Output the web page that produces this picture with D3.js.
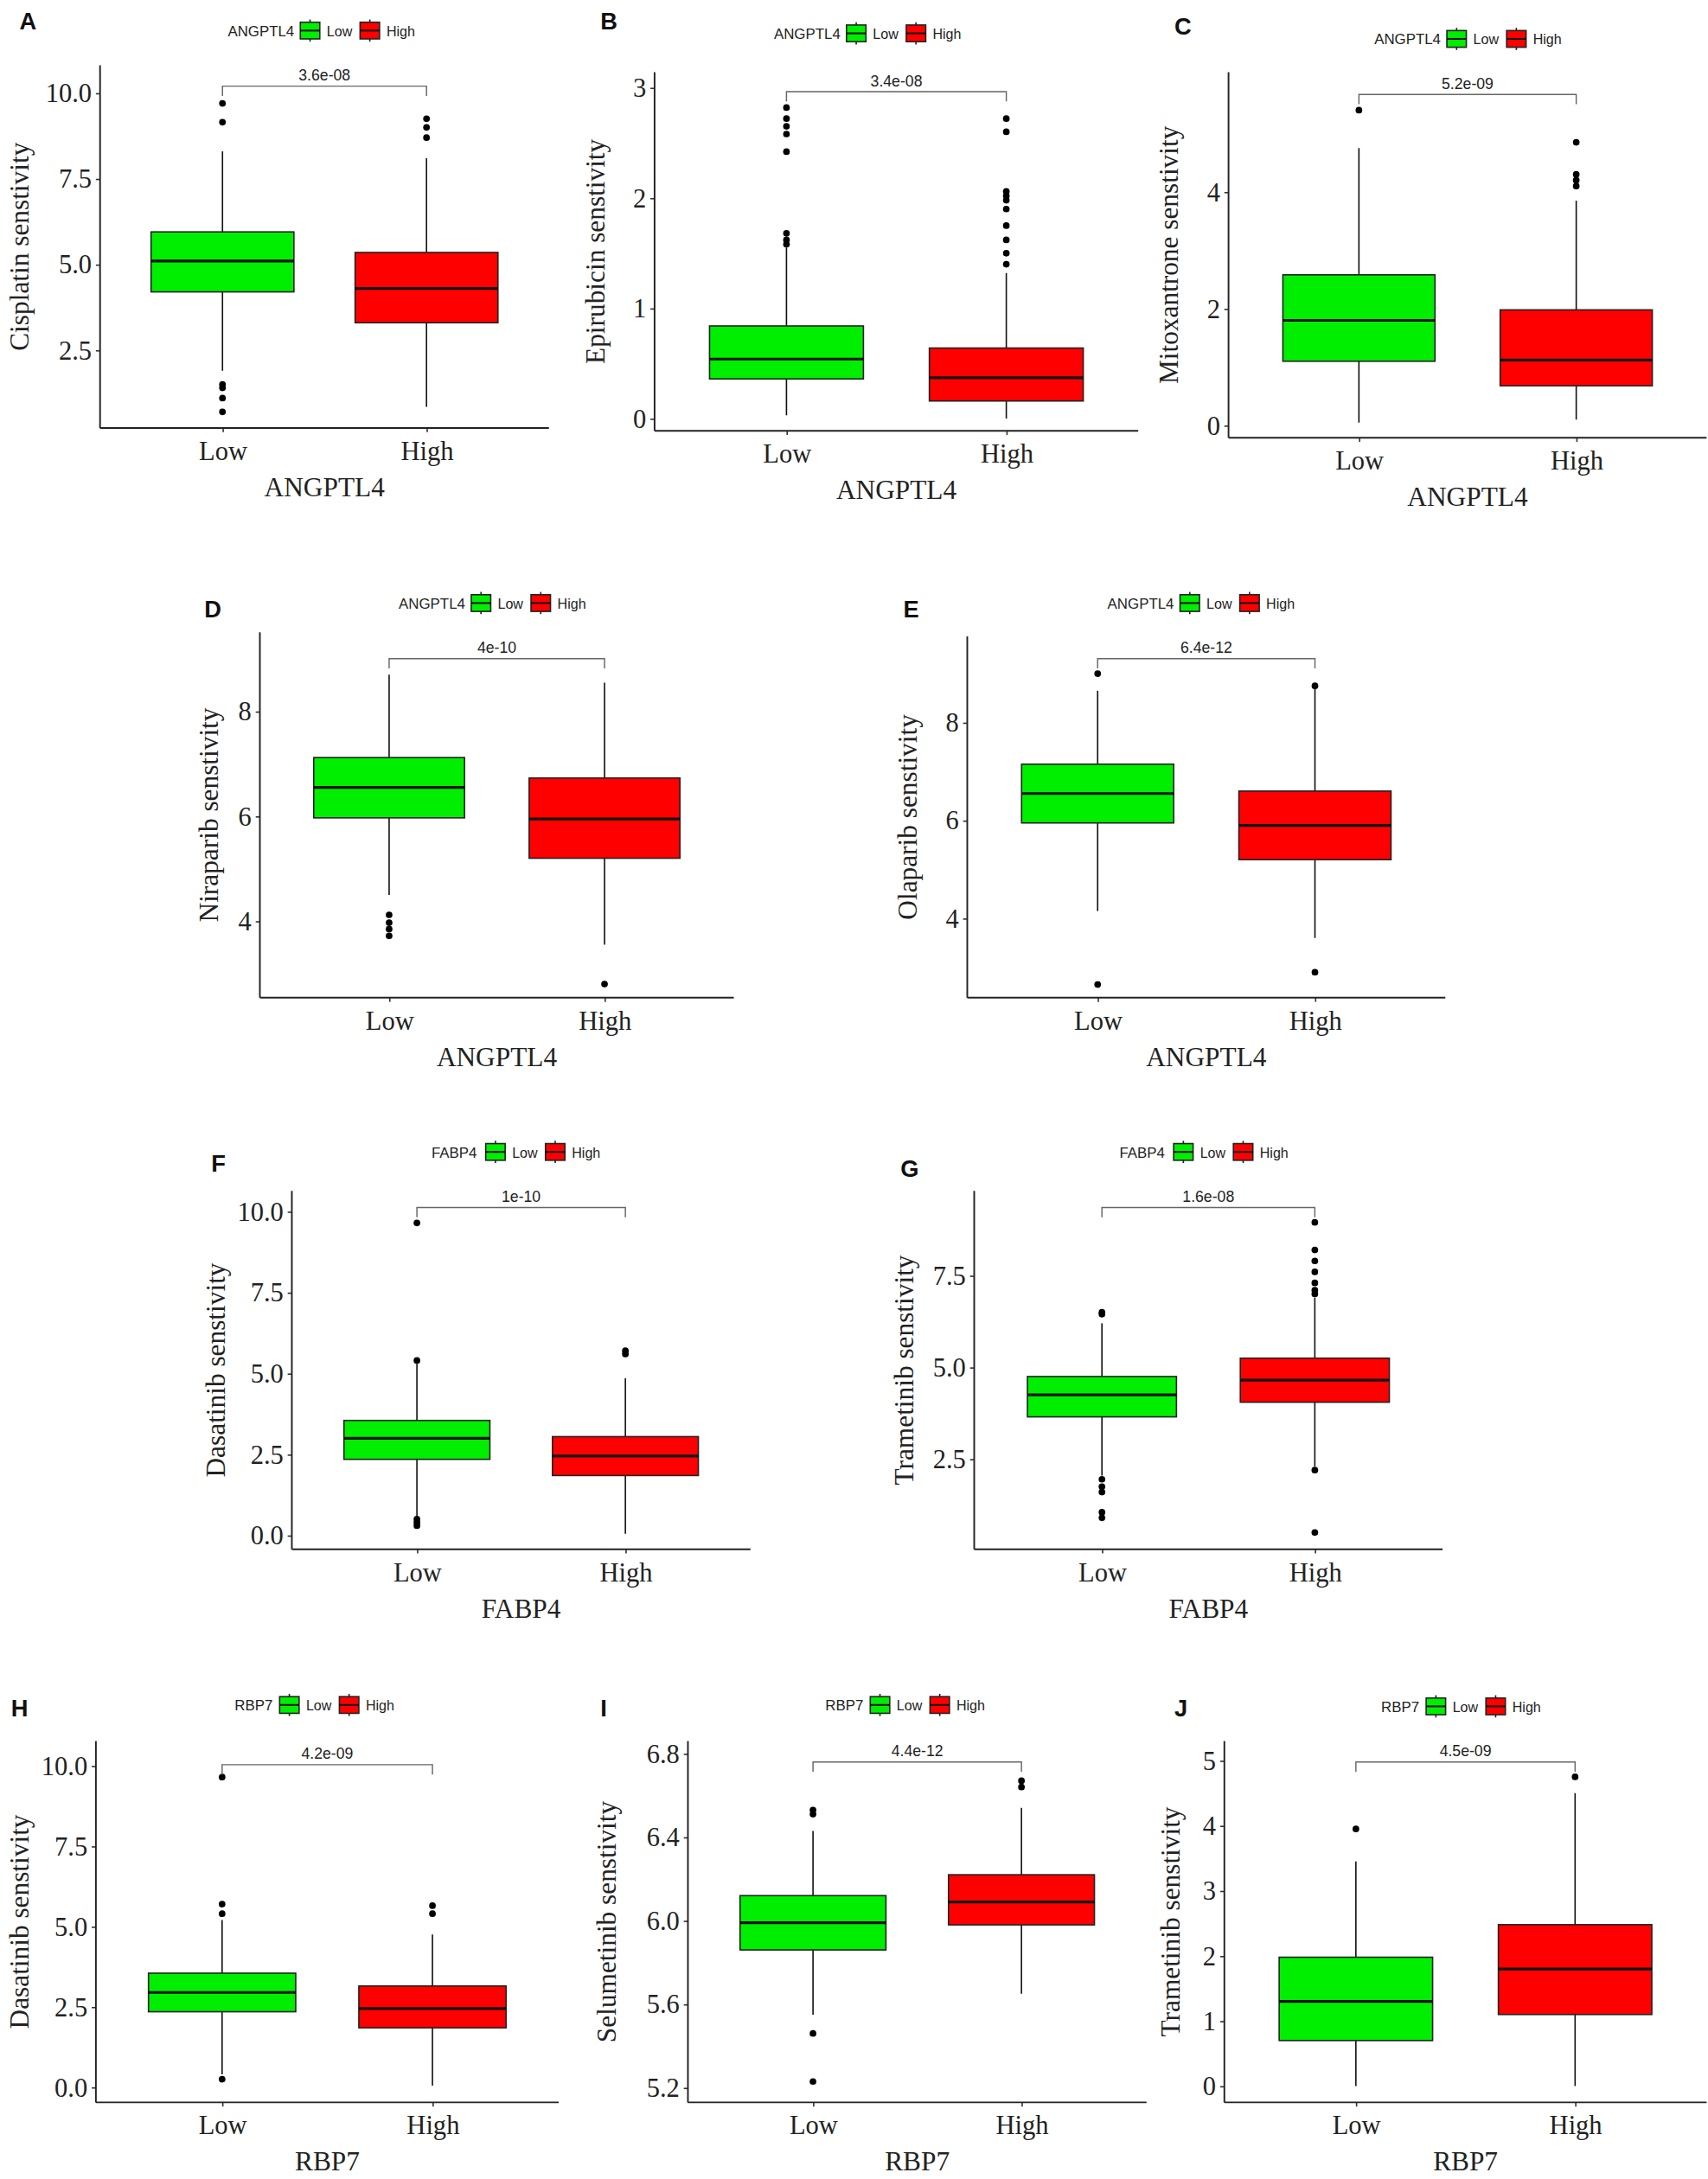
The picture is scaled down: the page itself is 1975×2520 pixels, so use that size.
<!DOCTYPE html>
<html><head><meta charset="utf-8">
<script src="https://cdn.jsdelivr.net/npm/d3@7"></script>
<style>body{margin:0;background:#fff}</style></head>
<body><svg id="c" width="1975" height="2520"></svg>
<script>
const groups = ["Low","High"];
const colors = {Low:"#00ee00", High:"#ff0000"};
// stats: [lowWhisker, q1, median, q3, highWhisker]
const panels = [
 {id:"A", gene:"ANGPTL4", ylab:"Cisplatin senstivity", p:"3.6e-08", domain:[0.23,10.81], ticks:[2.5,5,7.5,10], fmt:".1f",
  low:[1.9,4.2,5.1,5.95,8.3], lowOut:[0.7,1.1,1.4,1.5,9.15,9.7], high:[0.85,3.3,4.3,5.35,8.1], highOut:[8.7,9.0,9.25]},
 {id:"B", gene:"ANGPTL4", ylab:"Epirubicin senstivity", p:"3.4e-08", domain:[-0.11,3.14], ticks:[0,1,2,3], fmt:"d",
  low:[0.03,0.36,0.54,0.84,1.55], lowOut:[1.58,1.62,1.68,2.42,2.58,2.65,2.72,2.82], high:[0.0,0.16,0.37,0.64,1.32], highOut:[1.4,1.5,1.62,1.75,1.9,1.98,2.02,2.06,2.6,2.72]},
 {id:"C", gene:"ANGPTL4", ylab:"Mitoxantrone senstivity", p:"5.2e-09", domain:[-0.21,6.05], ticks:[0,2,4], fmt:"d",
  low:[0.05,1.1,1.8,2.58,4.75], lowOut:[5.4], high:[0.1,0.68,1.12,1.98,3.85], highOut:[4.1,4.2,4.3,4.85]},
 {id:"D", gene:"ANGPTL4", ylab:"Niraparib senstivity", p:"4e-10", domain:[2.54,9.51], ticks:[4,6,8], fmt:"d",
  low:[4.5,5.97,6.55,7.12,8.7], lowOut:[3.72,3.85,3.97,4.12], high:[3.55,5.2,5.95,6.73,8.55], highOut:[2.8]},
 {id:"E", gene:"ANGPTL4", ylab:"Olaparib senstivity", p:"6.4e-12", domain:[2.38,9.76], ticks:[4,6,8], fmt:"d",
  low:[4.15,5.95,6.55,7.15,8.65], lowOut:[2.65,9.0], high:[3.6,5.2,5.9,6.6,8.7], highOut:[2.9,8.75]},
 {id:"F", gene:"FABP4", ylab:"Dasatinib senstivity", p:"1e-10", domain:[-0.43,10.64], ticks:[0,2.5,5,7.5,10], fmt:".1f",
  low:[0.6,2.35,3.0,3.55,5.3], lowOut:[0.3,0.4,0.5,5.4,9.65], high:[0.05,1.85,2.45,3.05,4.85], highOut:[5.6,5.7]},
 {id:"G", gene:"FABP4", ylab:"Trametinib senstivity", p:"1.6e-08", domain:[0.04,9.81], ticks:[2.5,5,7.5], fmt:".1f",
  low:[2.05,3.65,4.25,4.75,6.2], lowOut:[0.9,1.05,1.6,1.75,1.95,6.45,6.5], high:[2.3,4.05,4.65,5.25,6.9], highOut:[0.5,2.2,7.0,7.1,7.3,7.6,7.9,8.2,8.95]},
 {id:"H", gene:"RBP7", ylab:"Dasatinib senstivity", p:"4.2e-09", domain:[-0.47,10.77], ticks:[0,2.5,5,7.5,10], fmt:".1f",
  low:[0.4,2.35,2.95,3.55,5.2], lowOut:[0.25,5.4,5.7,9.65], high:[0.05,1.85,2.45,3.15,4.75], highOut:[5.4,5.65]},
 {id:"I", gene:"RBP7", ylab:"Selumetinib senstivity", p:"4.4e-12", domain:[5.13,6.86], ticks:[5.2,5.6,6.0,6.4,6.8], fmt:".1f",
  low:[5.55,5.86,5.99,6.12,6.43], lowOut:[5.23,5.46,6.51,6.53], high:[5.65,5.98,6.09,6.22,6.54], highOut:[6.64,6.67]},
 {id:"J", gene:"RBP7", ylab:"Trametinib senstivity", p:"4.5e-09", domain:[-0.25,5.3], ticks:[0,1,2,3,4,5], fmt:"d",
  low:[0.0,0.7,1.3,1.98,3.45], lowOut:[3.95], high:[0.0,1.1,1.8,2.48,4.5], highOut:[4.75]}
];
const layout = {
 A:{L:72,R:395,T:47,B:308,leg:[235,22],let:[14,14],yt:14,br:62},
 B:{L:471,R:819,T:52,B:310,leg:[628,24],let:[432,14],yt:428,br:66},
 C:{L:884,R:1228,T:52,B:315,leg:[1060,28],let:[845,18],yt:841,br:68},
 D:{L:187,R:528,T:455,B:718,leg:[358,434],let:[147,437],yt:150,br:474},
 E:{L:696,R:1040,T:458,B:718,leg:[868,434],let:[650,437],yt:653,br:474},
 F:{L:210,R:540,T:857,B:1115,leg:[375,829],let:[152,836],yt:155,br:869},
 G:{L:701,R:1038,T:857,B:1115,leg:[870,829],let:[648,840],yt:650,br:869},
 H:{L:69,R:402,T:1253,B:1513,leg:[230,1227],let:[8,1228],yt:14,br:1270},
 I:{L:495,R:825,T:1253,B:1513,leg:[655,1227],let:[432,1228],yt:436,br:1268},
 J:{L:881,R:1228,T:1253,B:1513,leg:[1055,1228],let:[845,1228],yt:842,br:1268}
};
const S = 1975/1229;
const root = d3.select("#c").append("g").attr("transform",`scale(${S})`);
const serif = "Liberation Serif, Times New Roman, serif", sans = "Liberation Sans, Arial, sans-serif";
panels.forEach(p=>{
  const l = layout[p.id];
  const g = root.append("g");
  const xs = d3.scalePoint().domain(groups).range([l.L,l.R]).padding(0.6);
  const y = d3.scaleLinear().domain(p.domain).range([l.B,l.T]);
  const bw = (xs("High")-xs("Low"))*0.7;
  const ya = g.append("g").attr("transform",`translate(${l.L},0)`).call(d3.axisLeft(y).tickValues(p.ticks).tickFormat(d3.format(p.fmt)).tickSizeOuter(0).tickSize(3));
  const xa = g.append("g").attr("transform",`translate(0,${l.B})`).call(d3.axisBottom(xs).tickSizeOuter(0).tickSize(3));
  [ya,xa].forEach(a=>{
    a.selectAll(".tick line").attr("stroke","#333");
    a.selectAll("text").attr("font-family",serif).attr("font-size",19).attr("fill","#222");});
  ya.select(".domain").remove(); xa.select(".domain").remove();
  g.append("line").attr("x1",l.L).attr("x2",l.L).attr("y1",l.T).attr("y2",l.B).attr("stroke","#222").attr("stroke-width",1.2);
  g.append("line").attr("x1",l.L).attr("x2",l.R).attr("y1",l.B).attr("y2",l.B).attr("stroke","#222").attr("stroke-width",1.2);
  xa.selectAll("text").attr("dy","0.9em");
  groups.forEach(k=>{
    const st = k==="Low"?p.low:p.high, out = k==="Low"?p.lowOut:p.highOut, cx = xs(k);
    g.append("line").attr("x1",cx).attr("x2",cx).attr("y1",y(st[0])).attr("y2",y(st[4])).attr("stroke","#111").attr("stroke-width",1);
    g.append("rect").attr("x",cx-bw/2).attr("width",bw).attr("y",y(st[3])).attr("height",y(st[1])-y(st[3]))
      .attr("fill",colors[k]).attr("stroke","#222").attr("stroke-width",1);
    g.append("line").attr("x1",cx-bw/2).attr("x2",cx+bw/2).attr("y1",y(st[2])).attr("y2",y(st[2])).attr("stroke","#111").attr("stroke-width",2);
    g.selectAll(null).data(out).enter().append("circle").attr("cx",cx).attr("cy",d=>y(d)).attr("r",2.4).attr("fill","#000");
  });
  const x1 = xs("Low"), x2 = xs("High");
  g.append("path").attr("d",`M${x1},${l.br+7}V${l.br}H${x2}V${l.br+7}`).attr("fill","none").attr("stroke","#666").attr("stroke-width",0.9);
  g.append("text").attr("x",(x1+x2)/2).attr("y",l.br-4).attr("text-anchor","middle").attr("font-family",sans).attr("font-size",11).attr("fill","#222").text(p.p);
  g.append("text").attr("x",(l.L+l.R)/2).attr("y",l.B+49).attr("text-anchor","middle").attr("font-family",serif).attr("font-size",19.5).attr("fill","#222").text(p.gene);
  g.append("text").attr("transform",`translate(${l.yt},${(l.T+l.B)/2}) rotate(-90)`).attr("text-anchor","middle").attr("dy","0.35em")
    .attr("font-family",serif).attr("font-size",19.5).attr("fill","#222").text(p.ylab);
  g.append("text").attr("x",l.let[0]).attr("y",l.let[1]+7).attr("font-family",sans).attr("font-weight","bold").attr("font-size",17).attr("fill","#111").text(p.id);
  const lg = g.append("g").attr("transform",`translate(${l.leg[0]},${l.leg[1]})`);
  const gw = p.gene.length*6.6;
  const x0 = -( gw + 4 + 16 + 4 + 22 + 6 + 16 + 4 + 24)/2;
  lg.append("text").attr("x",x0).attr("y",4).attr("font-family",sans).attr("font-size",10.5).attr("fill","#222").text(p.gene);
  let cx = x0 + gw + 6;
  groups.forEach(k=>{
    lg.append("line").attr("x1",cx+7).attr("x2",cx+7).attr("y1",-8).attr("y2",8).attr("stroke","#222");
    lg.append("rect").attr("x",cx).attr("y",-6).attr("width",14).attr("height",12).attr("fill",colors[k]).attr("stroke","#222");
    lg.append("line").attr("x1",cx).attr("x2",cx+14).attr("y1",0).attr("y2",0).attr("stroke","#111").attr("stroke-width",1.3);
    lg.append("text").attr("x",cx+19).attr("y",4).attr("font-family",sans).attr("font-size",10).attr("fill","#222").text(k);
    cx += 19 + (k==="Low"?24:26);
  });
});
</script></body></html>
